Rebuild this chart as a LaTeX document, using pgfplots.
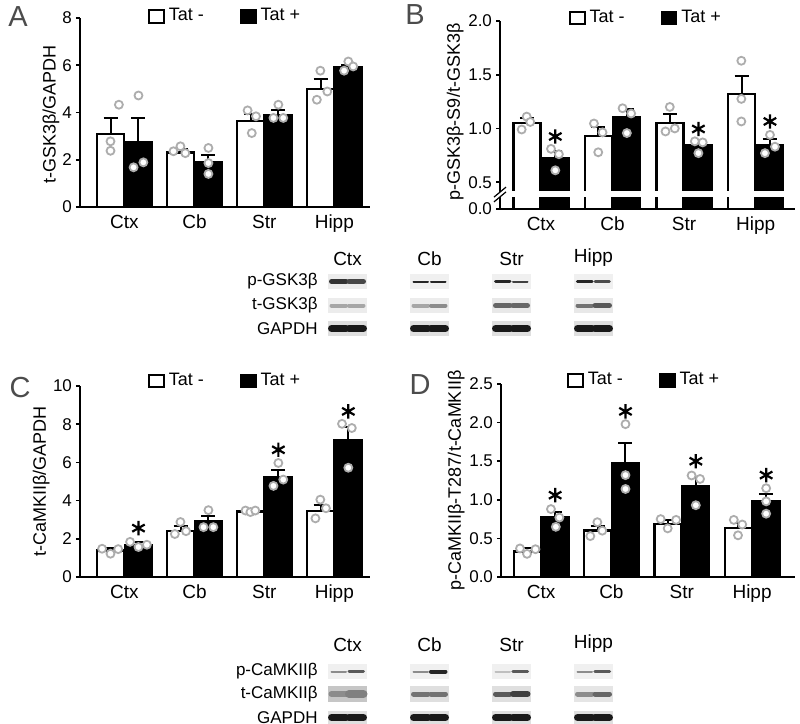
\documentclass[border=0pt]{standalone}
\usepackage{fontspec}
\setmainfont{Liberation Sans}
\usepackage{pgfplots}
\pgfplotsset{compat=1.18}

\definecolor{dotgray}{gray}{0.68}
\definecolor{lettergray}{gray}{0.3}

\pgfplotsset{
  panel/.style={
    scale only axis,
    axis x line*=bottom, axis y line*=left,
    axis line style={-, line width=1pt},
    tick align=outside,
    major tick length=2pt,
    ytick style={line width=0.8pt, black},
    xtick style={draw=none},
    xtick={0,1,2,3},
    xticklabels={Ctx,Cb,Str,Hipp},
    yticklabel style={font=\fontsize{8.5}{10}\selectfont, xshift=1.5pt},
    xticklabel style={font=\fontsize{9.5}{11}\selectfont, yshift=1.5pt},
    /pgf/number format/assume math mode=true,
    label style={font=\fontsize{9}{11}\selectfont},
    legend columns=2,
    legend style={draw=none, fill=none, font=\fontsize{9}{11}\selectfont, inner sep=0pt,
      /tikz/every even column/.append style={column sep=16pt}},
    legend cell align=left,
  },
  sqlegend/.style={legend image code/.code={\draw[##1, line width=1pt] (0pt,-3.2pt) rectangle (7.4pt,3.2pt);}},
  barbase/.style={ybar, bar width=13.5pt, bar shift=0pt, draw=black, line width=1.2pt, sqlegend,
    error bars/.cd, y dir=plus, y explicit,
    error bar style={line width=1pt, black},
    error mark options={rotate=90, line width=1pt, mark size=3.5pt, black}},
  whitebar/.style={fill=white, barbase},
  blackbar/.style={fill=black, barbase},
  dots/.style={only marks, mark=*, mark size=2pt, mark options={fill=white, draw=dotgray, line width=0.9pt}, forget plot},
  stars/.style={only marks, mark=asterisk, mark size=3.6pt, mark options={line width=1.1pt, black}, forget plot},
}

\newcommand{\blot}[8]{%
  \fill[#4] (#1,#2) rectangle ++(39,#3);
  \draw[#5, line width=#6*0.5pt, line cap=round] (#1+3.5,#2+#3/2) -- (#1+18,#2+#3/2);
  \draw[#7, line width=#8*0.5pt, line cap=round] (#1+21,#2+#3/2) -- (#1+35.5,#2+#3/2);
}

\begin{document}
\begin{tikzpicture}
\useasboundingbox (0,0) rectangle (400pt,-362pt);

% ---------------- Panel A ----------------
\begin{axis}[panel, at={(40pt,-103.5pt)}, anchor=south west,
  width=145pt, height=94.5pt,
  xmin=-0.636, xmax=3.51, ymin=0, ymax=8, ytick={0,2,4,6,8},
  ylabel={t-GSK3β/GAPDH},
  ylabel style={at={(axis description cs:-0.1,0.49)}, anchor=center},
  legend style={at={(0.504,1.01)}, anchor=center}]
\addplot[whitebar] coordinates {(-0.197,3.1) +- (0,0.65) (0.803,2.3) +- (0,0.16) (1.803,3.65) +- (0,0.3) (2.803,5.0) +- (0,0.4)};
\addlegendentry{Tat -}
\addplot[blackbar] coordinates {(0.197,2.75) +- (0,1.0) (1.197,1.9) +- (0,0.3) (2.197,3.9) +- (0,0.22) (3.197,5.93) +- (0,0.1)};
\addlegendentry{Tat +}
\addplot[dots] coordinates {(-0.08,4.33) (-0.2,2.78) (-0.2,2.38)
  (0.8,2.57) (0.7,2.36) (0.87,2.28)
  (1.76,4.09) (1.88,3.84) (1.82,3.13)
  (2.8,5.77) (2.9,4.89) (2.75,4.54)};
\addplot[dots] coordinates {(0.2,4.72) (0.13,1.68) (0.27,1.89)
  (1.2,2.5) (1.2,1.86) (1.2,1.4)
  (2.2,4.33) (2.13,3.77) (2.27,3.77)
  (3.2,6.16) (3.27,5.95) (3.14,5.77)};
\end{axis}

% ---------------- Panel B ----------------
\begin{axis}[panel, at={(250pt,-104.5pt)}, anchor=south west,
  width=147.5pt, height=94pt,
  y coord trafo/.code={\pgfmathparse{#1-0.25}},
  y coord inv trafo/.code={\pgfmathparse{#1+0.25}},
  xmin=-0.573, xmax=3.55, ymin=0.25, ymax=2.0,
  ytick={0.25,0.5,1,1.5,2}, yticklabels={0.0,0.5,1.0,1.5,2.0},
  ylabel={p-GSK3β-S9/t-GSK3β},
  ylabel style={at={(axis description cs:-0.152,0.516)}, anchor=center},
  legend style={at={(0.498,1.016)}, anchor=center}]
\addplot[whitebar] coordinates {(-0.197,1.053) +- (0,0.047) (0.803,0.93) +- (0,0.086) (1.803,1.053) +- (0,0.081) (2.803,1.32) +- (0,0.164)};
\addlegendentry{Tat -}
\addplot[blackbar] coordinates {(0.197,0.725) +- (0,0.065) (1.197,1.10) +- (0,0.078) (2.197,0.84) +- (0,0.04) (3.197,0.84) +- (0,0.057)};
\addlegendentry{Tat +}
\fill[white] (axis cs:-0.45,0.359) rectangle (axis cs:3.55,0.413);
\addplot[dots] coordinates {(-0.27,0.99) (-0.2,1.11) (-0.15,1.06)
  (0.74,1.046) (0.86,0.963) (0.8,0.778)
  (1.8,1.2) (1.74,0.972) (1.87,1.0)
  (2.8,1.63) (2.8,1.275) (2.8,1.065)};
\addplot[dots] coordinates {(0.14,0.81) (0.25,0.76) (0.2,0.61)
  (1.14,1.188) (1.26,1.139) (1.2,0.957)
  (2.15,0.88) (2.26,0.87) (2.2,0.77)
  (3.2,0.94) (3.13,0.77) (3.27,0.83)};
\addplot[stars] coordinates {(0.2,0.925) (2.2,0.995) (3.2,1.065)};
\coordinate (brk) at (axis cs:-0.573,0.385);
\end{axis}
\draw[white, line width=2.2pt] ([shift={(-3pt,-2.5pt)}]brk) -- ([shift={(3pt,2.5pt)}]brk);
\draw[black, line width=0.6pt] ([shift={(-3pt,-3.7pt)}]brk) -- ([shift={(3pt,1.3pt)}]brk);
\draw[black, line width=0.6pt] ([shift={(-3pt,-1.3pt)}]brk) -- ([shift={(3pt,3.7pt)}]brk);

% ---------------- Panel C ----------------
\begin{axis}[panel, at={(40pt,-288.5pt)}, anchor=south west,
  width=145pt, height=95.5pt,
  xmin=-0.636, xmax=3.51, ymin=0, ymax=10, ytick={0,2,4,6,8,10},
  ylabel={t-CaMKIIβ/GAPDH},
  ylabel style={at={(axis description cs:-0.134,0.5)}, anchor=center},
  legend style={at={(0.504,1.026)}, anchor=center}]
\addplot[whitebar] coordinates {(-0.197,1.38) +- (0,0.12) (0.803,2.42) +- (0,0.23) (1.803,3.42) +- (0,0.05) (2.803,3.47) +- (0,0.3)};
\addlegendentry{Tat -}
\addplot[blackbar] coordinates {(0.197,1.68) +- (0,0.13) (1.197,2.9) +- (0,0.3) (2.197,5.22) +- (0,0.38) (3.197,7.15) +- (0,0.72)};
\addlegendentry{Tat +}
\addplot[dots] coordinates {(-0.32,1.48) (-0.2,1.22) (-0.09,1.46)
  (0.8,2.88) (0.72,2.25) (0.88,2.4)
  (1.73,3.48) (1.8,3.4) (1.87,3.48)
  (2.8,4.05) (2.88,3.6) (2.73,3.07)};
\addplot[dots] coordinates {(0.08,1.84) (0.2,1.57) (0.32,1.69)
  (1.2,3.5) (1.13,2.61) (1.27,2.61)
  (2.2,5.97) (2.27,5.1) (2.13,4.77)
  (3.11,8.02) (3.25,7.8) (3.2,5.72)};
\addplot[stars] coordinates {(0.2,2.56) (2.2,6.66) (3.2,8.67)};
\end{axis}

% ---------------- Panel D ----------------
\begin{axis}[panel, at={(250.5pt,-288.5pt)}, anchor=south west,
  width=147pt, height=96.5pt,
  xmin=-0.57, xmax=3.61, ymin=0, ymax=2.5, ytick={0,0.5,1,1.5,2,2.5},
  yticklabels={0.0,0.5,1.0,1.5,2.0,2.5},
  ylabel={p-CaMKIIβ-T287/t-CaMKIIβ},
  ylabel style={at={(axis description cs:-0.152,0.5)}, anchor=center},
  legend style={at={(0.49,1.02)}, anchor=center}]
\addplot[whitebar] coordinates {(-0.197,0.33) +- (0,0.04) (0.803,0.60) +- (0,0.06) (1.803,0.69) +- (0,0.05) (2.803,0.635) +- (0,0.06)};
\addlegendentry{Tat -}
\addplot[blackbar] coordinates {(0.197,0.77) +- (0,0.07) (1.197,1.47) +- (0,0.26) (2.197,1.18) +- (0,0.12) (3.197,0.98) +- (0,0.1)};
\addlegendentry{Tat +}
\addplot[dots] coordinates {(-0.3,0.37) (-0.2,0.3) (-0.08,0.36)
  (0.8,0.71) (0.7,0.53) (0.87,0.6)
  (1.7,0.75) (1.8,0.63) (1.92,0.74)
  (2.74,0.74) (2.86,0.68) (2.8,0.54)};
\addplot[dots] coordinates {(0.14,0.88) (0.26,0.77) (0.21,0.65)
  (1.2,1.98) (1.2,1.32) (1.2,1.14)
  (2.14,1.315) (2.26,1.27) (2.2,0.93)
  (3.2,1.15) (3.2,0.98) (3.2,0.82)};
\addplot[stars] coordinates {(0.2,1.06) (1.2,2.145) (2.2,1.5) (3.2,1.32)};
\end{axis}

% ---------------- letters and blots ----------------
\begin{scope}[x=0.5pt, y=-0.5pt]
\node[font=\fontsize{14.5}{16}\selectfont, text=lettergray] at (18,17) {A};
\node[font=\fontsize{14.5}{16}\selectfont, text=lettergray] at (415,15) {B};
\node[font=\fontsize{14.5}{16}\selectfont, text=lettergray] at (20,388) {C};
\node[font=\fontsize{14.5}{16}\selectfont, text=lettergray] at (420,385) {D};

\begin{scope}[font=\fontsize{9.5}{11}\selectfont]
\node at (347.5,259) {Ctx};
\node at (429.5,259) {Cb};
\node at (511.5,259) {Str};
\node at (593.5,258) {Hipp};
\node at (347.5,645) {Ctx};
\node at (429.5,645) {Cb};
\node at (511.5,645) {Str};
\node at (593.5,644) {Hipp};
\end{scope}
\begin{scope}[font=\fontsize{8.5}{10}\selectfont]
\node[anchor=east, inner sep=0pt] at (318,281.5) {p-GSK3β};
\node[anchor=east, inner sep=0pt] at (318,305.5) {t-GSK3β};
\node[anchor=east, inner sep=0pt] at (318,328.5) {GAPDH};
\node[anchor=east, inner sep=0pt] at (318,671.5) {p-CaMKIIβ};
\node[anchor=east, inner sep=0pt] at (318,694) {t-CaMKIIβ};
\node[anchor=east, inner sep=0pt] at (318,717.5) {GAPDH};
\end{scope}

% p-GSK3b
\blot{328}{274}{15}{gray!15}{black!80}{5}{black!72}{5}
\blot{410}{274}{15}{gray!12}{black!85}{2}{black!85}{2}
\blot{492}{274}{15}{gray!12}{black!85}{3}{black!75}{2}
\blot{574}{274}{15}{gray!12}{black!85}{3.5}{black!70}{2.5}
% t-GSK3b
\blot{328}{298}{15}{gray!15}{black!35}{4}{black!35}{4}
\blot{410}{298}{15}{gray!15}{black!35}{4}{black!45}{4}
\blot{492}{298}{15}{gray!18}{black!60}{5}{black!60}{5}
\blot{574}{298}{15}{gray!18}{black!55}{4}{black!65}{5}
% GAPDH
\blot{328}{321}{15}{gray!25}{black!90}{7}{black!90}{7}
\blot{410}{321}{15}{gray!25}{black!90}{7}{black!90}{7}
\blot{492}{321}{15}{gray!25}{black!90}{7}{black!90}{7}
\blot{574}{321}{15}{gray!25}{black!90}{7}{black!90}{7}
% p-CaMKIIb
\blot{328}{664}{15}{gray!12}{black!45}{2}{black!65}{3}
\blot{410}{664}{15}{gray!12}{black!45}{2}{black!85}{4}
\blot{492}{664}{15}{gray!12}{black!25}{2}{black!65}{3.5}
\blot{574}{664}{15}{gray!12}{black!45}{2}{black!65}{3.5}
% t-CaMKIIb
\blot{328}{686}{16}{gray!45}{black!45}{6}{black!50}{8}
\blot{410}{686}{16}{gray!25}{black!55}{5}{black!55}{5}
\blot{492}{686}{16}{gray!25}{black!65}{5}{black!75}{6}
\blot{574}{686}{16}{gray!20}{black!45}{5}{black!60}{5}
% GAPDH
\blot{328}{711}{13}{gray!25}{black!90}{7}{black!90}{7}
\blot{410}{711}{13}{gray!25}{black!90}{7}{black!90}{7}
\blot{492}{711}{13}{gray!25}{black!90}{7}{black!90}{7}
\blot{574}{711}{13}{gray!25}{black!90}{7}{black!90}{7}
\end{scope}
\end{tikzpicture}
\end{document}
